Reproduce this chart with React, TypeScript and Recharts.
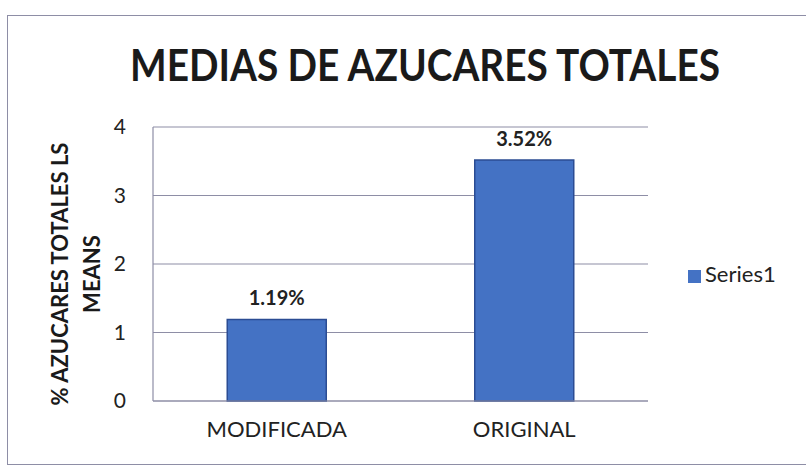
import React from 'react';
import { BarChart, Bar, XAxis, YAxis, CartesianGrid, Legend, LabelList } from 'recharts';

const categories = ['MODIFICADA', 'ORIGINAL'];
const series1 = [1.19, 3.52];
const valueLabels = ['1.19%', '3.52%'];
const yTicks = [0, 1, 2, 3, 4];
const titleText = 'MEDIAS DE AZUCARES TOTALES';
const yLabelLines = ['% AZUCARES TOTALES LS', 'MEANS'];
const seriesName = 'Series1';

const data = categories.map((c, i) => ({ name: c, Series1: series1[i], label: valueLabels[i] }));

const FONT = 'Lato, "Open Sans", sans-serif';
const LINE = '#8e8ea6';

export default function App() {
  return (
    <div style={{ position: 'absolute', left: 0, top: 0, width: 806, height: 466, background: '#fff', overflow: 'hidden' }}>
      <div style={{ position: 'absolute', left: 7, top: 15, width: 820, height: 448, border: `1px solid ${LINE}` }} />
      <div style={{ position: 'absolute', left: 0, top: 0 }}>
        <BarChart width={806} height={466} data={data} margin={{ top: 127, right: 48, bottom: 25, left: 113 }} barCategoryGap="30%">
          <CartesianGrid vertical={false} stroke={LINE} strokeWidth={1.2} />
          <XAxis dataKey="name" height={40} tickLine={false} tickSize={0} tickMargin={20} axisLine={{ stroke: LINE, strokeWidth: 1.2 }}
            tick={{ fontFamily: FONT, fontSize: 22, fill: '#222' }} />
          <YAxis width={40} domain={[0, 4]} ticks={yTicks} tickLine={false} tickSize={0} tickMargin={27} axisLine={{ stroke: LINE, strokeWidth: 1.2 }}
            tick={{ fontFamily: FONT, fontSize: 21, fill: '#222' }} />
          <Legend layout="vertical" align="right" verticalAlign="middle" iconType="square" iconSize={13}
            wrapperStyle={{ left: 688, top: 260, width: 110, fontFamily: FONT, fontSize: 22 }}
            formatter={(v: string) => <span style={{ color: '#222' }}>{v}</span>} />
          <Bar dataKey="Series1" name={seriesName} fill="#4472C4" stroke="#2b4c93" strokeWidth={1.5} isAnimationActive={false}>
            <LabelList dataKey="label" position="top" offset={14} style={{ fontFamily: FONT, fontSize: 20, fontWeight: 700, fill: '#222' }} />
          </Bar>
        </BarChart>
      </div>
      <svg width={806} height={466} style={{ position: 'absolute', left: 0, top: 0, pointerEvents: 'none' }}>
        <text x={425} y={81} textAnchor="middle" fontFamily={FONT} fontWeight={700} fontSize={44} fill="#1a1a1a"
          textLength={590} lengthAdjust="spacingAndGlyphs">{titleText}</text>
        <g transform="translate(76,274) rotate(-90)">
          <text x={0} y={-8} textAnchor="middle" fontFamily={FONT} fontWeight={700} fontSize={22} fill="#1a1a1a">{yLabelLines[0]}</text>
          <text x={0} y={24} textAnchor="middle" fontFamily={FONT} fontWeight={700} fontSize={22} fill="#1a1a1a">{yLabelLines[1]}</text>
        </g>
      </svg>
    </div>
  );
}
